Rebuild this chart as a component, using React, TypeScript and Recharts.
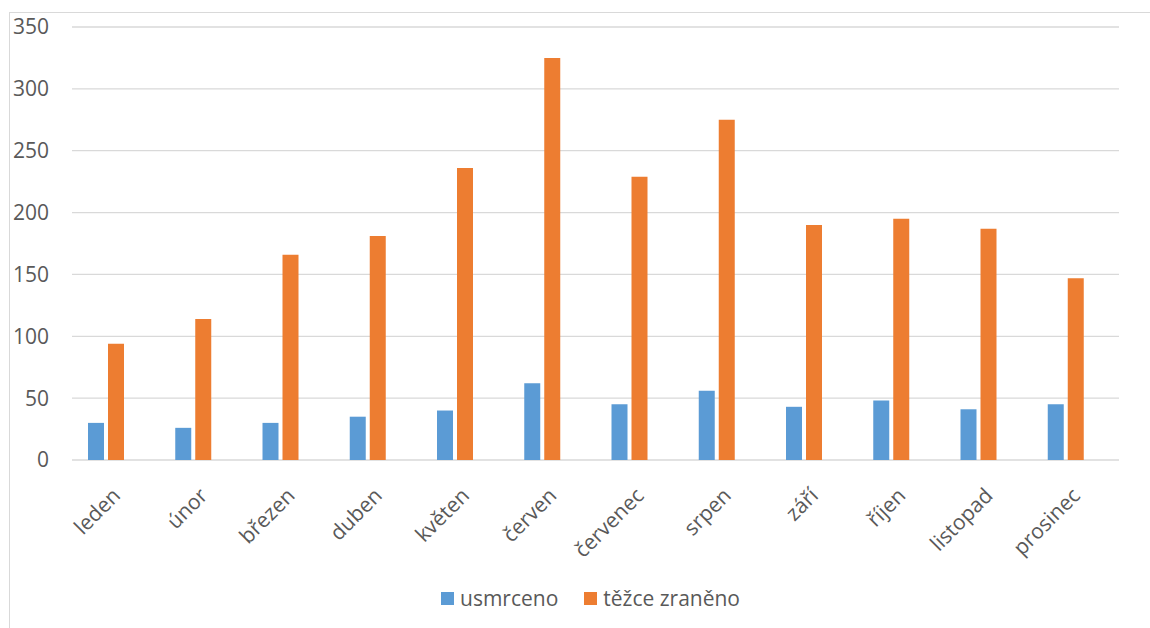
import React from "react";
import { BarChart, Bar, XAxis, YAxis, CartesianGrid } from "recharts";

// měsíce a hodnoty
const mesice = [
	"leden", "únor", "březen", "duben", "květen", "červen",
	"červenec", "srpen", "září", "říjen", "listopad", "prosinec",
];
const usmrceno = [30, 26, 30, 35, 40, 62, 45, 56, 43, 48, 41, 45];
const tezceZraneno = [94, 114, 166, 181, 236, 325, 229, 275, 190, 195, 187, 147];
const yTicks = [0, 50, 100, 150, 200, 250, 300, 350];

const serie = [
	{ key: "usmrceno", name: "usmrceno", color: "#5b9bd5" },
	{ key: "tezce", name: "těžce zraněno", color: "#ed7d31" },
];

const data = mesice.map((m, i) => ({
	mesic: m,
	usmrceno: usmrceno[i],
	tezce: tezceZraneno[i],
}));

const FONT = "'Open Sans', sans-serif";
const TEXT = "#595959";
const GRID = "#d9d9d9";

const XTick = (props: any) => {
	const { x, y, payload } = props;
	return (
		<g transform={`translate(${x + 6},${y + 37})`}>
			<text textAnchor="end" transform="rotate(-45)" fill={TEXT} fontSize={21} fontFamily={FONT}>
				{payload.value}
			</text>
		</g>
	);
};

// vodorovné mřížky
const GridLine = (props: any) => {
	const { x1, x2, y1, y2 } = props;
	return <line x1={x1} x2={x2} y1={y1} y2={y2} stroke={GRID} strokeWidth={1.3} />;
};

export default function App() {
	return (
		<div style={{ position: "fixed", left: 0, top: 0, width: 1150, height: 628, background: "#fff", fontFamily: FONT, overflow: "hidden" }}>
			<div style={{ position: "absolute", left: 9, top: 12, right: 0, bottom: 0, borderLeft: `1px solid ${GRID}`, borderTop: `1px solid ${GRID}` }} />
			<div style={{ position: "absolute", left: 0, top: 0 }}>
				<BarChart width={1150} height={628} data={data} margin={{ top: 27, right: 31, left: 0, bottom: 0 }} barGap={4} barSize={16}>
					<CartesianGrid vertical={false} horizontal={<GridLine />} />
					<XAxis dataKey="mesic" height={168} axisLine={false} tickLine={false} tickSize={0} tickMargin={0} interval={0} tick={<XTick />} />
					<YAxis
						width={72}
						domain={[0, 350]}
						ticks={yTicks}
						axisLine={false}
						tickLine={false}
						tickSize={0}
						tickMargin={23}
						tick={{ fill: TEXT, fontSize: 21, fontFamily: FONT }}
					/>
					{serie.map((s) => (
						<Bar key={s.key} dataKey={s.key} name={s.name} fill={s.color} isAnimationActive={false} />
					))}
					{/* prázdná třetí řada, drží místo vpravo jako v původním grafu */}
					<Bar dataKey="prazdne" legendType="none" fill="none" isAnimationActive={false} />
				</BarChart>
			</div>
			<div style={{ position: "absolute", left: 441, top: 584, display: "flex", alignItems: "center", fontSize: 21, color: TEXT, lineHeight: "28px" }}>
				{serie.map((s, i) => (
					<div key={s.key} style={{ display: "flex", alignItems: "center", marginRight: i === 0 ? 26 : 0 }}>
						<span style={{ display: "inline-block", width: 13, height: 13, background: s.color, marginRight: 6 }} />
						<span>{s.name}</span>
					</div>
				))}
			</div>
		</div>
	);
}
